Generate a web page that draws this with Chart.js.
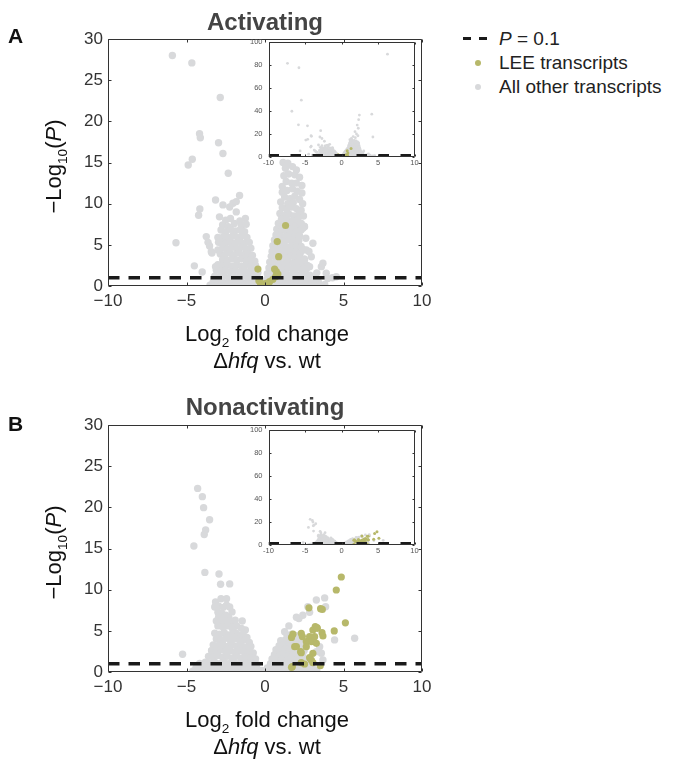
<!DOCTYPE html>
<html>
<head>
<meta charset="utf-8">
<script src="https://cdn.jsdelivr.net/npm/chart.js@4.4.1/dist/chart.umd.min.js"></script>
<style>
  body { margin: 0; background: #fff; width: 676px; height: 760px; position: relative; overflow: hidden;
         font-family: "Liberation Sans", Arial, Helvetica, sans-serif; }
  .pane { position: absolute; }
  .tag { position: absolute; font-weight: bold; font-size: 21px; color: #111; line-height: 24px; }
  .leg { position: absolute; left: 499px; font-size: 19px; line-height: 22px; color: #222; white-space: nowrap; }
  .dash { position: absolute; width: 8px; height: 3px; background: #1a1a1a; top: 37px; }
  .dot { position: absolute; width: 6px; height: 6px; border-radius: 50%; left: 475px; }
</style>
</head>
<body>

<div class="pane" style="left:0;top:0;width:440px;height:380px"><canvas id="mainA"></canvas></div>
<div class="pane" style="left:230px;top:30px;width:195px;height:145px"><canvas id="insetA"></canvas></div>
<div class="pane" style="left:0;top:380px;width:440px;height:380px"><canvas id="mainB"></canvas></div>
<div class="pane" style="left:230px;top:418px;width:195px;height:145px"><canvas id="insetB"></canvas></div>

<div class="tag" style="left:8px;top:24px">A</div>
<div class="tag" style="left:8px;top:412px">B</div>

<div class="dash" style="left:463px"></div>
<div class="dash" style="left:479px"></div>
<div class="leg" style="top:28px"><i>P</i> = 0.1</div>
<div class="dot" style="top:60px;background:#b7b86a"></div>
<div class="leg" style="top:52px">LEE transcripts</div>
<div class="dot" style="top:84px;background:#d8d9db"></div>
<div class="leg" style="top:76px">All other transcripts</div>

<script>
// ---- data (x = log2 fold change, y = -log10 P) ----
const xTicks = [-10, -5, 0, 5, 10];
const yTicksMain = [0, 5, 10, 15, 20, 25, 30];
const yTicksInset = [0, 20, 40, 60, 80, 100];
const thresholdY = 1;          // P = 0.1
const thresholdX = [-10, 10];

const grayA = [
  // sparse high points
  [-5.9,28.0],[-4.66,27.1],[-2.85,22.9],[-4.17,18.5],[-4.12,18.0],[-2.96,17.4],[-2.68,16.1],
  [-4.63,15.4],[-4.89,14.7],[-2.34,13.7],[-1.62,11.0],[-3.15,10.45],[-2.68,9.85],[-2.04,10.05],
  [-1.83,10.25],[-4.15,9.35],[-4.23,8.6],[-2.25,9.6],[-1.83,9.0],[-1.25,8.2],[-5.67,5.26],
  [-3.74,6.0],[-3.63,5.3],[-3.0,5.9],[-2.96,5.3],[-3.38,4.0],[-3.53,4.86],[-3.42,4.17],[-3.0,4.37],
  [-4.5,2.45],[-4.0,1.7],[-3.15,2.35],[-2.89,2.3],
  // off the main scale, seen in the inset
  [-7.4,81.5],[-5.83,77.6],[-5.5,49.4],[-6.8,39.8],[6.3,89.4],[4.15,37.2],[4.3,17.4],
  [2.45,36.5],[2.35,32.5],[2.15,27.8],[2.3,25.0],[1.85,22.0],[2.05,20.0],[1.6,17.8],[1.9,16.8],
  [2.25,18.5],[1.35,16.2],
  // right lobe
  [1.15,15.0],[1.45,14.9],[1.75,14.5],[2.0,14.1],[1.3,14.3],
  [1.2,13.4],[1.5,13.6],[1.9,13.5],[2.2,13.2],[1.35,12.7],[1.7,12.5],[2.0,12.5],[2.35,12.2],[1.1,12.1],
  [1.1,11.4],[1.4,11.6],[1.75,11.8],[2.05,11.5],[2.35,11.3],[1.25,10.8],[1.6,10.6],[1.9,10.9],
  [2.2,10.5],[1.0,10.2],[1.45,10.0],[1.8,10.1],[2.4,10.0],
  [1.1,9.5],[1.4,9.3],[1.7,9.6],[2.0,9.4],[2.3,9.2],[0.95,8.8],[1.25,8.6],[1.55,8.7],[1.85,8.5],
  [2.15,8.7],[2.45,8.5],[1.05,8.1],[1.4,8.0],[1.75,7.9],[2.1,8.0],
  [0.85,7.6],[1.15,7.5],[1.6,7.4],[1.95,7.3],[2.25,7.5],[2.5,7.25],[2.3,6.8],[0.75,6.9],[1.05,6.8],
  [1.35,6.7],[1.7,6.9],[2.0,6.6],[0.7,6.2],[1.0,6.1],[1.3,6.0],[1.6,6.2],[1.9,6.0],[2.2,6.1],
  [0.6,5.6],[0.95,5.5],[1.25,5.4],[1.55,5.6],[1.85,5.4],[2.15,5.5],[0.5,4.9],[0.8,4.8],[1.1,4.9],
  [1.4,4.7],[1.7,4.9],[2.0,4.7],[2.3,4.8],[0.45,4.2],[0.75,4.1],[1.05,4.3],[1.35,4.0],[1.65,4.2],
  [1.95,4.1],[2.25,4.0],[2.45,4.4],
  [0.4,3.6],[0.7,3.5],[1.0,3.6],[1.3,3.4],[1.6,3.6],[1.9,3.4],[2.2,3.5],[2.5,3.3],[0.3,2.9],
  [0.6,2.8],[0.9,2.9],[1.2,2.7],[1.5,2.9],[1.8,2.7],[2.1,2.9],[2.4,2.7],[2.7,2.5],[0.25,2.2],
  [0.55,2.1],[0.85,2.3],[1.15,2.0],[1.45,2.2],[1.75,2.0],[2.05,2.2],[2.35,2.0],[2.65,2.1],
  [0.15,1.5],[0.45,1.4],[0.75,1.5],[1.05,1.3],[1.35,1.5],[1.65,1.3],[1.95,1.5],[2.25,1.3],
  [2.55,1.5],[2.85,1.3],[3.1,1.2],[0.1,0.8],[0.4,0.7],[0.7,0.9],[1.0,0.7],[1.3,0.8],[1.6,0.7],
  [1.9,0.9],[2.2,0.7],[2.5,0.8],[2.8,0.6],[3.1,0.7],[3.4,0.5],[0.2,0.2],[0.5,0.15],[0.8,0.25],
  [1.1,0.1],[1.4,0.2],[1.7,0.1],[2.0,0.25],[2.3,0.1],[2.6,0.2],[2.9,0.15],[3.2,0.2],[3.5,0.1],[3.8,0.2],
  // right scatter
  [2.52,7.2],[3.05,5.2],[2.95,3.56],[3.59,2.35],[3.9,1.54],[2.31,7.6],[2.41,7.0],[2.63,4.37],
  [2.52,3.16],[2.84,2.35],[3.69,2.76],[4.54,1.13],[4.3,1.0],[4.0,0.9],[3.3,1.6],[2.8,4.2],[2.6,5.8],
  // valley
  [-0.3,0.3],[0.0,0.1],[-0.15,0.5],
  // left lobe
  [-2.9,8.4],[-2.5,8.0],[-2.2,8.2],[-1.6,7.9],[-2.7,7.4],[-2.35,7.2],[-1.95,7.6],[-1.5,7.3],[-1.2,7.5],
  [-2.8,6.8],[-2.5,6.6],[-2.2,6.9],[-1.9,6.7],[-1.6,6.8],[-1.3,6.6],[-2.65,6.0],[-2.35,5.9],
  [-2.05,6.1],[-1.75,5.9],[-1.45,6.1],[-1.15,5.9],[-2.8,5.3],[-2.5,5.2],[-2.2,5.4],[-1.9,5.2],
  [-1.6,5.4],[-1.3,5.2],[-1.0,5.3],
  [-2.7,4.6],[-2.4,4.5],[-2.1,4.7],[-1.8,4.5],[-1.5,4.7],[-1.2,4.5],[-0.9,4.6],[-2.85,3.9],
  [-2.55,3.8],[-2.25,4.0],[-1.95,3.8],[-1.65,4.0],[-1.35,3.8],[-1.05,3.9],[-0.8,3.7],[-2.7,3.2],
  [-2.4,3.1],[-2.1,3.3],[-1.8,3.1],[-1.5,3.3],[-1.2,3.1],[-0.9,3.2],[-0.65,3.0],
  [-3.0,2.6],[-2.7,2.5],[-2.4,2.6],[-2.1,2.4],[-1.8,2.6],[-1.5,2.4],[-1.2,2.6],[-0.9,2.4],[-0.6,2.5],
  [-3.1,1.9],[-2.8,1.8],[-2.5,1.9],[-2.2,1.7],[-1.9,1.9],[-1.6,1.7],[-1.3,1.9],[-1.0,1.7],[-0.7,1.8],
  [-0.45,1.6],[-3.2,1.2],[-2.9,1.1],[-2.6,1.2],[-2.3,1.0],[-2.0,1.2],[-1.7,1.0],[-1.4,1.2],[-1.1,1.0],
  [-0.8,1.1],[-0.5,1.0],
  [-3.3,0.5],[-3.0,0.4],[-2.7,0.5],[-2.4,0.3],[-2.1,0.5],[-1.8,0.3],[-1.5,0.5],[-1.2,0.3],[-0.9,0.5],
  [-0.6,0.4],[-0.35,0.3],[-3.5,0.1],[-3.1,0.1],[-2.8,0.05],[-2.5,0.1],[-2.2,0.05],[-1.9,0.1],
  [-1.6,0.05],[-1.3,0.1],[-1.0,0.05],[-0.7,0.1],[-0.4,0.05],[-0.1,0.1],[-3.2,0.9]
];

const leeA = [
  [1.31,7.35],[0.78,5.4],[0.87,3.56],[-0.45,2.06],[0.61,2.06],[0.72,1.74],[0.82,1.46],[0.68,1.13],
  [0.5,0.81],[0.29,0.52],[0.08,0.33],[-0.13,0.24],[-0.3,0.4],[-0.39,0.64]
];

const grayB = [
  // sparse high points
  [-4.29,22.3],[-3.99,21.3],[-3.91,19.96],[-3.53,18.5],[-3.78,17.25],[-3.87,16.7],[-4.53,15.3],
  [-3.83,12.1],[-2.93,11.9],[-2.83,10.65],[-2.25,10.7],[-5.25,2.15],[-3.4,2.6],[-1.45,6.2],
  [-1.25,5.1],[-4.16,1.05],
  // left column
  [-3.15,8.5],[-2.8,8.9],[-2.45,8.9],[-3.2,7.9],[-2.95,8.0],[-2.65,7.85],[-2.45,8.1],[-2.25,7.9],
  [-3.0,7.25],[-2.75,7.1],[-2.5,6.9],[-2.1,7.3],[-2.95,6.7],[-2.6,6.6],[-2.3,6.6],
  [-3.1,6.2],[-2.8,6.1],[-2.5,6.2],[-2.2,6.0],[-1.9,6.3],[-3.0,5.6],[-2.7,5.5],[-2.4,5.6],
  [-2.1,5.4],[-1.8,5.6],[-1.5,5.3],[-2.04,5.1],[-1.83,4.7],
  [-3.2,4.7],[-2.9,4.6],[-2.6,4.8],[-2.3,4.5],[-2.0,4.6],[-1.7,4.4],[-1.4,4.6],[-1.15,4.2],
  [-3.1,4.0],[-2.8,3.9],[-2.5,4.1],[-2.2,3.8],[-1.9,4.0],[-1.6,3.8],[-1.3,3.9],[-1.0,3.6],
  [-3.3,3.3],[-3.0,3.2],[-2.7,3.4],[-2.4,3.1],[-2.1,3.3],[-1.8,3.1],[-1.5,3.2],[-1.2,3.0],[-0.9,3.1],
  [-3.4,2.6],[-3.1,2.5],[-2.8,2.7],[-2.5,2.5],[-2.2,2.6],[-1.9,2.4],[-1.6,2.6],[-1.3,2.4],[-1.0,2.5],
  [-0.75,2.3],[-3.6,1.9],[-3.3,1.8],[-3.0,2.0],[-2.7,1.8],[-2.4,1.9],[-2.1,1.7],[-1.8,1.9],[-1.5,1.7],
  [-1.2,1.8],[-0.9,1.7],[-0.6,1.6],[-3.8,1.2],[-3.5,1.1],[-3.2,1.2],[-2.9,1.0],[-2.6,1.2],[-2.3,1.0],
  [-2.0,1.2],[-1.7,1.0],[-1.4,1.1],[-1.1,1.0],[-0.8,1.1],[-0.5,0.9],
  [-4.4,0.5],[-4.1,0.4],[-3.8,0.5],[-3.5,0.4],[-3.2,0.5],[-2.9,0.3],[-2.6,0.5],[-2.3,0.3],[-2.0,0.5],
  [-1.7,0.3],[-1.4,0.5],[-1.1,0.3],[-0.8,0.4],[-0.5,0.3],[-0.2,0.2],[-4.6,0.1],[-4.2,0.05],[-3.9,0.1],
  [-3.6,0.05],[-3.3,0.1],[-3.0,0.05],[-2.7,0.1],[-2.4,0.05],[-2.1,0.1],[-1.8,0.05],[-1.5,0.1],
  [-1.2,0.05],[-0.9,0.1],[-0.6,0.05],[-0.3,0.1],[0.0,0.05],
  // right lobe
  [1.25,4.9],[1.52,5.6],[1.4,4.5],[1.7,4.6],[2.0,4.4],[2.2,4.2],
  [1.0,3.8],[1.3,3.9],[1.6,3.7],[1.9,3.9],[2.15,3.6],[0.9,3.2],[1.2,3.3],[1.5,3.1],[1.8,3.3],[2.1,3.1],[2.35,3.3],
  [0.7,2.7],[1.0,2.6],[1.3,2.8],[1.6,2.6],[1.9,2.7],[2.2,2.5],[2.5,2.6],[0.6,2.1],[0.9,2.0],[1.2,2.2],
  [1.5,2.0],[1.8,2.1],[2.1,2.0],[2.4,2.2],
  [0.45,1.6],[0.75,1.5],[1.05,1.6],[1.35,1.4],[1.65,1.6],[1.95,1.4],[2.25,1.6],[2.55,1.5],[0.35,1.0],
  [0.65,1.1],[0.95,0.9],[1.25,1.1],[1.55,0.9],[1.85,1.1],[2.15,0.9],[2.45,1.0],[2.75,1.1],
  [0.15,0.5],[0.45,0.4],[0.75,0.5],[1.05,0.3],[1.35,0.5],[1.65,0.3],[1.95,0.5],[2.25,0.3],[2.55,0.5],
  [2.85,0.4],[3.1,0.3],[0.3,0.1],[0.6,0.05],[0.9,0.1],[1.2,0.05],[1.5,0.1],[1.8,0.05],[2.1,0.1],
  [2.4,0.05],[2.7,0.1],[3.0,0.05],[3.3,0.1],
  // right scatter
  [2.0,6.65],[2.16,6.5],[2.41,6.9],[2.84,7.25],[2.73,7.93],[3.27,8.75],[3.8,9.0],[3.86,7.93],
  [4.43,3.9],[5.71,4.1],[3.48,3.07],[3.59,2.27],[2.41,3.48],[2.84,3.89],[3.27,2.47],[3.69,1.46]
];

const leeB = [
  [4.86,11.54],[4.54,9.96],[2.8,7.8],[3.54,7.69],[3.65,7.6],[5.12,5.97],[4.41,4.99],[3.31,5.38],
  [3.05,5.1],[3.2,5.5],[3.33,5.3],[3.63,4.78],[3.69,4.37],[1.78,4.6],[1.69,4.2],[2.31,4.7],
  [2.38,4.3],[2.84,4.29],[3.16,4.29],[2.63,3.69],[2.95,3.69],[3.27,3.48],[1.89,3.07],[2.63,3.08],
  [3.05,2.27],[2.31,2.35],[2.84,1.74],[1.74,0.65],[1.69,0.57],[2.31,1.13],[2.52,0.97],[3.05,1.13],
  [2.95,1.46],[3.52,0.77],[2.0,3.1],[2.27,2.47]
];

const GRAY = '#d8d9db';
const OLIVE = '#b7b86a';
const FONT = "'Liberation Sans', Arial, Helvetica, sans-serif";

const toXY = arr => arr.map(p => ({ x: p[0], y: p[1] }));

// text with italics / subscripts, centred on (x, y) baseline
function drawRich(ctx, parts, size, x, y, rotate, color) {
  ctx.save();
  ctx.translate(x, y);
  if (rotate) ctx.rotate(-Math.PI / 2);
  ctx.fillStyle = color;
  ctx.textBaseline = 'alphabetic';
  ctx.textAlign = 'left';
  const fontFor = p => (p.i ? 'italic ' : '') + (p.sub ? size * 0.62 : size) + 'px ' + FONT;
  let total = 0;
  parts.forEach(p => { ctx.font = fontFor(p); total += ctx.measureText(p.t).width; });
  let cx = -total / 2;
  parts.forEach(p => {
    ctx.font = fontFor(p);
    ctx.fillText(p.t, cx, p.sub ? size * 0.28 : 0);
    cx += ctx.measureText(p.t).width;
  });
  ctx.restore();
}

// box with inward ticks, optional white fill (for the insets)
const framePlugin = {
  id: 'frame',
  beforeDatasetsDraw(chart, args, o) {
    if (!o.fill) return;
    const a = chart.chartArea, ctx = chart.ctx;
    ctx.save();
    ctx.fillStyle = o.fill;
    ctx.fillRect(a.left, a.top, a.width, a.height);
    ctx.restore();
  },
  afterDatasetsDraw(chart, args, o) {
    const { ctx, chartArea: a, scales: { x, y } } = chart;
    const L = Math.round(a.left) + 0.5, R = Math.round(a.right) - 0.5;
    const T = Math.round(a.top) + 0.5, B = Math.round(a.bottom) - 0.5;
    ctx.save();
    ctx.strokeStyle = o.color;
    ctx.lineWidth = 1;
    ctx.beginPath();
    ctx.rect(L, T, R - L, B - T);
    x.ticks.forEach(t => {
      const p = Math.round(x.getPixelForValue(t.value)) + 0.5;
      ctx.moveTo(p, B); ctx.lineTo(p, B - o.tick);
      ctx.moveTo(p, T); ctx.lineTo(p, T + o.tick);
    });
    y.ticks.forEach(t => {
      const p = Math.round(y.getPixelForValue(t.value)) + 0.5;
      ctx.moveTo(L, p); ctx.lineTo(L + o.tick, p);
      ctx.moveTo(R, p); ctx.lineTo(R - o.tick, p);
    });
    ctx.stroke();
    ctx.restore();
  }
};

// axis titles of the main panels
const axisTitlePlugin = {
  id: 'axisTitles',
  afterDraw(chart, args, o) {
    if (!o.show) return;
    const { ctx, chartArea: a } = chart;
    const cx = (a.left + a.right) / 2, cy = (a.top + a.bottom) / 2;
    drawRich(ctx, [{ t: '\u2212Log' }, { t: '10', sub: true }, { t: '(' }, { t: 'P', i: true }, { t: ')' }],
      22, 61, cy + 4, true, '#111');
    drawRich(ctx, [{ t: 'Log' }, { t: '2', sub: true }, { t: ' fold change' }], 22, cx + 2, a.bottom + 55, false, '#111');
    drawRich(ctx, [{ t: '\u0394' }, { t: 'hfq', i: true }, { t: ' vs. wt' }], 22, cx + 2, a.bottom + 82, false, '#111');
  }
};

function makeChart(id, gray, lee, opts) {
  const inset = opts.inset;
  const datasets = [
    {
      label: 'P = 0.1', type: 'line',
      data: thresholdX.map(v => ({ x: v, y: thresholdY })),
      borderColor: '#1a1a1a', borderWidth: 3.5, borderDash: inset ? [10.5, 11.5] : [11.5, 9],
      pointRadius: 0, fill: false, clip: 0
    },
    {
      label: 'LEE transcripts', data: toXY(lee),
      backgroundColor: OLIVE, borderWidth: 0, pointRadius: inset ? 1.5 : 3.6, clip: 0
    },
    {
      label: 'All other transcripts', data: toXY(gray),
      backgroundColor: GRAY, borderWidth: 0, pointRadius: inset ? 1.4 : 3.7, clip: 0
    }
  ];
  const tickFont = inset ? { family: FONT, size: 7.5 } : { family: FONT, size: 17 };
  const tickColor = inset ? '#555' : '#333';
  const minus = inset ? '-' : '\u2212';
  const yTicks = inset ? yTicksInset : yTicksMain;
  return new Chart(document.getElementById(id), {
    type: 'scatter',
    data: { datasets },
    options: {
      responsive: true,
      maintainAspectRatio: false,
      animation: false,
      events: [],
      layout: { padding: opts.padding },
      plugins: {
        legend: { display: false },
        tooltip: { enabled: false },
        title: opts.title ? {
          display: true, text: opts.title, fullSize: false, color: '#444',
          font: { family: FONT, size: 24, weight: 'bold' },
          padding: opts.titlePad
        } : { display: false },
        frame: { color: '#333', tick: inset ? 2 : 3, fill: inset ? '#fff' : null },
        axisTitles: { show: !inset }
      },
      scales: {
        x: {
          type: 'linear', min: -10, max: 10,
          grid: { display: false, drawTicks: false }, border: { display: false },
          afterBuildTicks: s => { s.ticks = xTicks.map(v => ({ value: v })); },
          afterFit: s => { s.height = opts.xHeight; },
          ticks: {
            font: tickFont, color: tickColor, padding: inset ? 1 : 5, maxRotation: 0,
            callback: v => (v < 0 ? minus + Math.abs(v) : String(v))
          }
        },
        y: {
          type: 'linear', min: 0, max: inset ? 100 : 30,
          grid: { display: false, drawTicks: false }, border: { display: false },
          afterBuildTicks: s => { s.ticks = yTicks.map(v => ({ value: v })); },
          afterFit: s => { s.width = opts.yWidth; },
          ticks: { font: tickFont, color: tickColor, padding: inset ? 6 : 5 }
        }
      }
    },
    plugins: [framePlugin, axisTitlePlugin]
  });
}

makeChart('mainA', grayA, leeA, {
  title: 'Activating', titlePad: { top: 8.6, bottom: 1.6 },
  padding: { left: 0, right: 18, top: 0, bottom: 0 }, xHeight: 94, yWidth: 108
});
makeChart('mainB', grayB, leeB, {
  title: 'Nonactivating', titlePad: { top: 13.6, bottom: 2.6 },
  padding: { left: 0, right: 18, top: 0, bottom: 0 }, xHeight: 88, yWidth: 108
});
makeChart('insetA', grayA, leeA, {
  inset: true, padding: { left: 0, right: 10.5, top: 12, bottom: 0 }, xHeight: 18, yWidth: 38.5
});
makeChart('insetB', grayB, leeB, {
  inset: true, padding: { left: 0, right: 10.5, top: 12, bottom: 0 }, xHeight: 18, yWidth: 38.5
});
</script>
</body>
</html>
